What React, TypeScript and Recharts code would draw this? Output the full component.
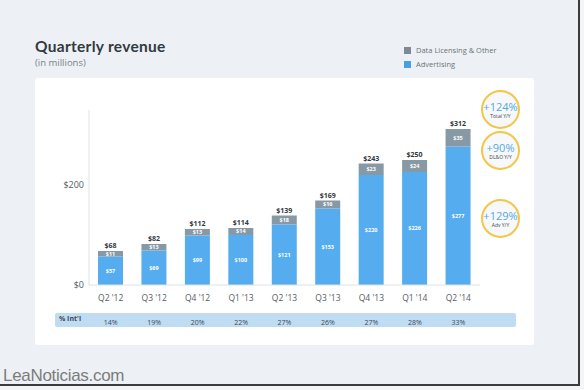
import { BarChart, Bar, XAxis, YAxis, LabelList } from 'recharts';

const quarters = ["Q2 '12", "Q3 '12", "Q4 '12", "Q1 '13", "Q2 '13", "Q3 '13", "Q4 '13", "Q1 '14", "Q2 '14"];
const advertising = [57, 69, 99, 100, 121, 153, 220, 226, 277];
const dataLicensing = [11, 13, 13, 14, 18, 16, 23, 24, 35];
const totals = [68, 82, 112, 114, 139, 169, 243, 250, 312];
const intlShare = ['14%', '19%', '20%', '22%', '27%', '26%', '27%', '28%', '33%'];
const yTicks = [0, 200];
const growth = [
  { value: '+124%', label: 'Total Y/Y' },
  { value: '+90%', label: 'DL&O Y/Y' },
  { value: '+129%', label: 'Adv Y/Y' },
];

const data = quarters.map((q, i) => ({
  quarter: q,
  adv: advertising[i],
  dlo: dataLicensing[i],
  total: totals[i],
  intl: intlShare[i],
}));

const BLUE = '#55acee';
const GRAY = '#8899a6';
const FONT = '"Open Sans", "Liberation Sans", sans-serif';

const circleTops = [90, 131, 199];

// quarter label under the axis, % Int'l value further down in the strip
function QuarterTick({ x, y, payload, index }: any) {
  return (
    <g>
      <text x={x} y={y + 8} textAnchor="middle" fill="#555d63" fontSize={8.5} fontFamily={FONT}>
        {payload.value}
      </text>
      <text x={x} y={y + 31.5} textAnchor="middle" fill="#3d4a55" fontSize={7} fontFamily={FONT}>
        {intlShare[index]}
      </text>
    </g>
  );
}

export default function App() {
  return (
    <div style={{ position: 'absolute', left: 0, top: 0, width: 584, height: 390, background: '#f4f5f6', fontFamily: FONT }}>
      <div
        style={{
          position: 'absolute',
          left: 0,
          top: 0,
          width: 578,
          height: 384,
          background: '#edf1f5',
          borderRight: '2px solid #3c3c3c',
          borderBottom: '2px solid #3c3c3c',
        }}
      />
      <div style={{ position: 'absolute', left: 35, top: 37, fontSize: 15.5, fontWeight: 700, color: '#333a40', fontFamily: 'Lato, sans-serif', letterSpacing: 0.3 }}>
        Quarterly revenue
      </div>
      <div style={{ position: 'absolute', left: 35, top: 56, fontSize: 9.5, color: '#7a8288' }}>(in millions)</div>

      <div style={{ position: 'absolute', left: 404, top: 43, fontSize: 7.5, color: '#6b7378', lineHeight: '14px' }}>
        <div style={{ display: 'flex', alignItems: 'center' }}>
          <span style={{ width: 7, height: 7, background: '#7d8a93', marginRight: 5, display: 'inline-block' }} />
          Data Licensing &amp; Other
        </div>
        <div style={{ display: 'flex', alignItems: 'center' }}>
          <span style={{ width: 7, height: 7, background: '#4a9fe0', marginRight: 5, display: 'inline-block' }} />
          Advertising
        </div>
      </div>

      <div style={{ position: 'absolute', left: 35, top: 78, width: 499, height: 267, background: '#ffffff', borderRadius: 3 }} />
      <div style={{ position: 'absolute', left: 55, top: 313, width: 461, height: 14, background: '#bfdcf3', borderRadius: 2 }} />
      <div style={{ position: 'absolute', left: 59, top: 314, fontSize: 7, fontWeight: 700, color: '#3d4a55' }}>% Int'l</div>

      <div style={{ position: 'absolute', left: 0, top: 0 }}>
        <BarChart width={584} height={390} data={data} margin={{ top: 110, right: 104, bottom: 61, left: 59 }} barSize={25}>
          <XAxis
            dataKey="quarter"
            height={44}
            tickLine={false}
            axisLine={{ stroke: '#dde3e8' }}
            interval={0}
            tick={<QuarterTick />}
          />
          <YAxis
            width={30}
            domain={[0, 350]}
            ticks={yTicks}
            tickLine={false}
            tickSize={3}
            tickMargin={2}
            axisLine={{ stroke: '#dde3e8' }}
            tick={{ fill: '#555d63', fontSize: 9, fontFamily: FONT }}
            tickFormatter={(v: number) => `$${v}`}
          />
          <Bar dataKey="adv" stackId="rev" fill={BLUE} isAnimationActive={false}>
            <LabelList
              dataKey="adv"
              position="center"
              fill="#ffffff"
              fontSize={5.5}
              fontWeight={700}
              formatter={(v: number) => `$${v}`}
            />
          </Bar>
          <Bar dataKey="dlo" stackId="rev" fill={GRAY} isAnimationActive={false}>
            <LabelList
              dataKey="dlo"
              position="center"
              fill="#ffffff"
              fontSize={5.5}
              fontWeight={700}
              formatter={(v: number) => `$${v}`}
            />
            <LabelList
              dataKey="total"
              position="top"
              offset={3}
              fill="#333a40"
              fontSize={7}
              fontWeight={700}
              formatter={(v: number) => `$${v}`}
            />
          </Bar>
        </BarChart>
      </div>

      {growth.map((g, i) => (
        <div
          key={g.label}
          style={{
            position: 'absolute',
            left: 481,
            top: circleTops[i],
            width: 35,
            height: 35,
            borderRadius: '50%',
            border: '2px solid #f3c64a',
            background: '#f6f8fa',
            display: 'flex',
            flexDirection: 'column',
            alignItems: 'center',
            justifyContent: 'center',
          }}
        >
          <div style={{ fontSize: 11, color: '#55a8e6', lineHeight: '12px' }}>{g.value}</div>
          <div style={{ fontSize: 5, color: '#444', lineHeight: '6px' }}>{g.label}</div>
        </div>
      ))}

      <div style={{ position: 'absolute', left: 3, top: 366, fontSize: 17, color: '#7c7c7c', fontFamily: '"Liberation Sans", Arial, sans-serif', letterSpacing: -0.3 }}>
        LeaNoticias.com
      </div>
    </div>
  );
}
